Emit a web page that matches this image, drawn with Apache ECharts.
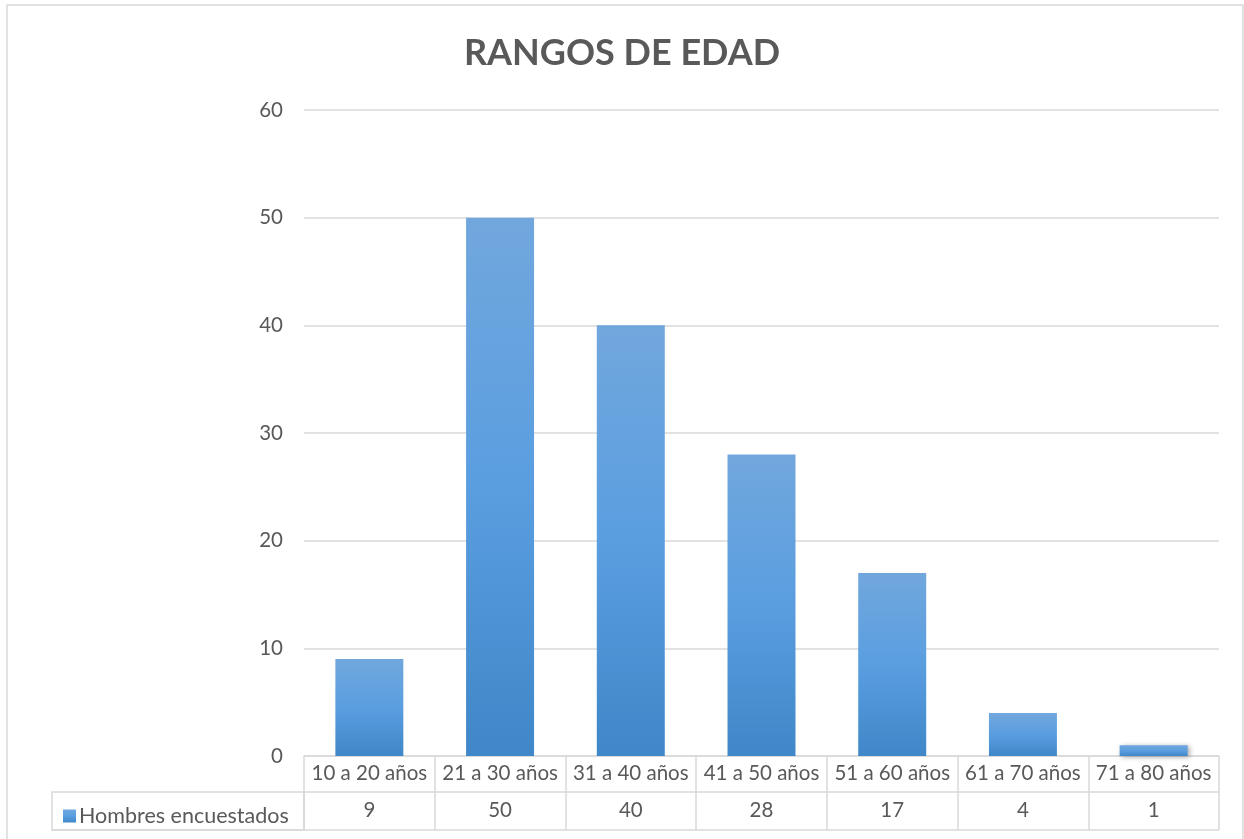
<!DOCTYPE html>
<html><head><meta charset="utf-8">
<script src="https://cdn.jsdelivr.net/npm/echarts@6/dist/echarts.min.js"></script>
<style>html,body{margin:0;padding:0;background:#fff}#c{width:1244px;height:839px}</style>
</head><body><div id="c"></div>
<script>
const title = 'RANGOS DE EDAD';
const categories = ['10 a 20 años','21 a 30 años','31 a 40 años','41 a 50 años','51 a 60 años','61 a 70 años','71 a 80 años'];
const seriesName = 'Hombres encuestados';
const values = [9, 50, 40, 28, 17, 4, 1];
const yTicks = [0, 10, 20, 30, 40, 50, 60];

const FONT = 'Lato, "Open Sans", sans-serif';
const TXT = '#595959';
const LINE = '#d9d9d9';
const chart = echarts.init(document.getElementById('c'));
const barColor = new echarts.graphic.LinearGradient(0,0,0,1,[
  {offset:0,color:'#71a7dd'},{offset:0.5,color:'#5a9ee0'},{offset:1,color:'#3f87c8'}]);
chart.setOption({
  animation:false,
  title:{text:title,left:'center',top:30,textStyle:{fontFamily:FONT,fontSize:36,fontWeight:'bold',color:TXT}},
  legend:{show:true,left:58,top:800,itemWidth:13,itemHeight:13,itemGap:6,icon:'rect',
    textStyle:{fontFamily:FONT,fontSize:21.5,color:TXT,padding:[0,0,0,-2]},data:[seriesName]},
  grid:{left:304,right:25,top:110,bottom:83,containLabel:false},
  xAxis:[{type:'category',data:categories,position:'bottom',
    axisLine:{show:true,lineStyle:{color:LINE,width:1.5}},
    axisTick:{show:true,length:36,lineStyle:{color:LINE,width:1.5}},
    axisLabel:{margin:7,fontFamily:FONT,fontSize:20.5,color:TXT,interval:0}},
   {type:'category',data:values.map(String),position:'bottom',offset:36,
    axisLine:{show:true,lineStyle:{color:LINE,width:1.5}},
    axisTick:{show:true,length:38,lineStyle:{color:LINE,width:1.5}},
    axisLabel:{margin:8,fontFamily:FONT,fontSize:20.5,color:TXT,interval:0}}],
  yAxis:{type:'value',min:yTicks[0],max:yTicks[yTicks.length-1],interval:10,
    axisLine:{show:false},axisTick:{show:false},
    axisLabel:{margin:21,fontFamily:FONT,fontSize:20.5,color:TXT},
    splitLine:{lineStyle:{color:LINE,width:1.5}}},
  series:[{type:'bar',name:seriesName,data:values,xAxisIndex:0,barWidth:'52%',
    itemStyle:{color:barColor,shadowBlur:5,shadowColor:'rgba(0,0,0,0.35)',shadowOffsetX:2,shadowOffsetY:1}}]
});
const x0 = chart.convertToPixel({xAxisIndex:0},0) - (chart.convertToPixel({xAxisIndex:0},1)-chart.convertToPixel({xAxisIndex:0},0))/2;
const step = chart.convertToPixel({xAxisIndex:0},1)-chart.convertToPixel({xAxisIndex:0},0);
const xEnd = x0 + step*categories.length;
const yBase = chart.convertToPixel({yAxisIndex:0},0);
const r1 = yBase+36, r2 = yBase+74;
chart.setOption({graphic:[
  {type:'rect',shape:{x:7,y:5,width:1236,height:860},style:{fill:null,stroke:LINE,lineWidth:1.5},silent:true},
  {type:'rect',shape:{x:52,y:r1,width:x0-52,height:r2-r1},style:{fill:null,stroke:LINE,lineWidth:1.5},silent:true},
  {type:'line',shape:{x1:52,y1:r2,x2:xEnd,y2:r2},style:{stroke:LINE,lineWidth:1.5},silent:true}
]});
</script></body></html>
